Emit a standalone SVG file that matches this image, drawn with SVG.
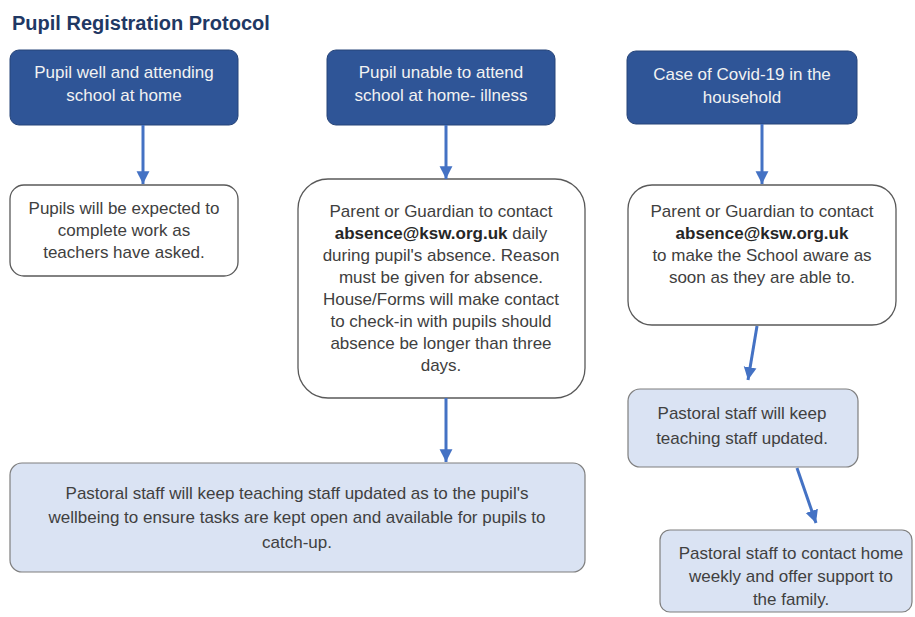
<svg xmlns="http://www.w3.org/2000/svg" width="915" height="617" viewBox="0 0 915 617">
<defs>
<marker id="ah" markerUnits="userSpaceOnUse" markerWidth="14" markerHeight="14" viewBox="0 0 12 12" refX="11" refY="6" orient="auto">
<path d="M0,0.5 L11,6 L0,11.5 Z" fill="#4472C4"/>
</marker>
</defs>
<style>
text{font-family:"Liberation Sans",Arial,sans-serif;font-size:17px;text-anchor:middle;fill:#404040}
.title{font-size:20px;font-weight:bold;text-anchor:start;fill:#1F3864}
.dark rect{fill:#2F5597;stroke:#264478;stroke-width:1}
.dark text{fill:#F2F2F2}
.white rect{fill:#FFFFFF;stroke:#595959;stroke-width:1.3}
.light rect{fill:#DAE3F3;stroke:#7F7F7F;stroke-width:1.2}
.b{font-weight:bold;fill:#262626}
.conn line{stroke:#4472C4;stroke-width:3;marker-end:url(#ah)}
</style>
<rect width="915" height="617" fill="#FFFFFF"/>
<text class="title" x="12" y="30">Pupil Registration Protocol</text>

<g id="n1" class="dark">
<rect x="10" y="50" width="228" height="75" rx="9"/>
<text x="124" y="78">Pupil well and attending</text>
<text x="124" y="101">school at home</text>
</g>
<g id="n2" class="white">
<rect x="10" y="185" width="228" height="91" rx="14"/>
<text x="124" y="214">Pupils will be expected to</text>
<text x="124" y="236">complete work as</text>
<text x="124" y="258">teachers have asked.</text>
</g>
<g id="n3" class="dark">
<rect x="327" y="50" width="228" height="75" rx="9"/>
<text x="441" y="78">Pupil unable to attend</text>
<text x="441" y="101">school at home- illness</text>
</g>
<g id="n4" class="white">
<rect x="298" y="179" width="287" height="219" rx="30"/>
<text x="441" y="217">Parent or Guardian to contact</text>
<text x="441" y="239"><tspan class="b">absence@ksw.org.uk</tspan> daily</text>
<text x="441" y="261">during pupil's absence. Reason</text>
<text x="441" y="283">must be given for absence.</text>
<text x="441" y="305">House/Forms will make contact</text>
<text x="441" y="327">to check-in with pupils should</text>
<text x="441" y="349">absence be longer than three</text>
<text x="441" y="371">days.</text>
</g>
<g id="n5" class="light">
<rect x="10" y="463" width="575" height="109" rx="12"/>
<text x="297" y="499">Pastoral staff will keep teaching staff updated as to the pupil's</text>
<text x="297" y="523">wellbeing to ensure tasks are kept open and available for pupils to</text>
<text x="297" y="548">catch-up.</text>
</g>
<g id="n6" class="dark">
<rect x="627" y="51" width="230" height="73" rx="9"/>
<text x="742" y="80">Case of Covid-19 in the</text>
<text x="742" y="103">household</text>
</g>
<g id="n7" class="white">
<rect x="628" y="185" width="268" height="140" rx="24"/>
<text x="762" y="217">Parent or Guardian to contact</text>
<text x="762" y="239" class="b">absence@ksw.org.uk</text>
<text x="762" y="261">to make the School aware as</text>
<text x="762" y="283">soon as they are able to.</text>
</g>
<g id="n8" class="light">
<rect x="628" y="389" width="230" height="78" rx="12"/>
<text x="742" y="419">Pastoral staff will keep</text>
<text x="742" y="444">teaching staff updated.</text>
</g>
<g id="n9" class="light">
<rect x="660" y="530" width="252" height="82" rx="10"/>
<text x="791" y="559">Pastoral staff to contact home</text>
<text x="791" y="582">weekly and offer support to</text>
<text x="791" y="605">the family.</text>
</g>

<g id="connectors" class="conn">
<line x1="143" y1="125" x2="143" y2="184"/>
<line x1="446" y1="125" x2="446" y2="179"/>
<line x1="446" y1="398" x2="446" y2="462"/>
<line x1="762" y1="124" x2="762" y2="184"/>
<line x1="757" y1="326" x2="748" y2="380"/>
<line x1="797" y1="468" x2="816" y2="523"/>
</g>
</svg>
